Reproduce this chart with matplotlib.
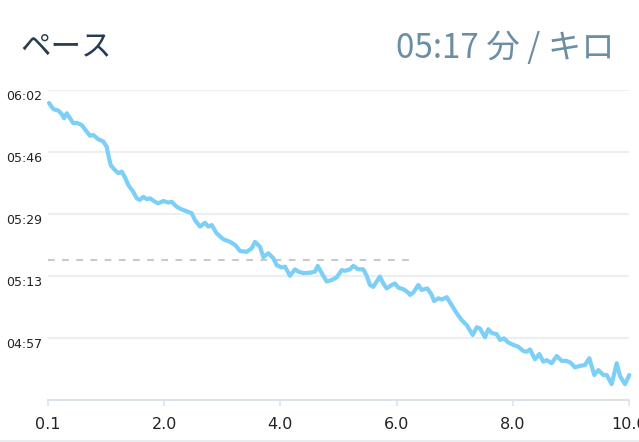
import matplotlib
matplotlib.use("Agg")
import matplotlib.pyplot as plt
from matplotlib.lines import Line2D

# distance (km, axis position) and pace (seconds per km)
distance = [0.017, 0.091, 0.177, 0.236, 0.275, 0.322, 0.379, 0.435, 0.494, 0.580,
            0.666, 0.723, 0.780, 0.866, 0.952, 1.010, 1.038, 1.079, 1.153, 1.210,
            1.269, 1.325, 1.382, 1.468, 1.527, 1.583, 1.640, 1.699, 1.756, 1.842,
            1.898, 1.985, 2.071, 2.129, 2.215, 2.301, 2.375, 2.473, 2.530, 2.616,
            2.702, 2.759, 2.818, 2.904, 3.017, 3.133, 3.219, 3.305, 3.420, 3.506,
            3.563, 3.649, 3.706, 3.792, 3.878, 3.936, 4.022, 4.079, 4.165, 4.251,
            4.308, 4.394, 4.509, 4.596, 4.642, 4.711, 4.797, 4.883, 4.969, 5.055,
            5.112, 5.198, 5.255, 5.341, 5.427, 5.485, 5.542, 5.599, 5.657, 5.714,
            5.771, 5.830, 5.916, 5.972, 6.029, 6.115, 6.201, 6.231, 6.287, 6.374,
            6.432, 6.528, 6.604, 6.644, 6.718, 6.776, 6.862, 6.948, 7.034, 7.120,
            7.206, 7.310, 7.379, 7.435, 7.521, 7.578, 7.637, 7.723, 7.780, 7.849,
            7.923, 8.009, 8.095, 8.181, 8.239, 8.296, 8.382, 8.456, 8.525, 8.583,
            8.669, 8.756, 8.842, 8.928, 8.997, 9.071, 9.157, 9.243, 9.317, 9.403,
            9.472, 9.558, 9.616, 9.702, 9.788, 9.845, 9.931, 10.005]
pace = [358.6, 357.0, 356.6, 355.7, 354.6, 355.9, 354.6, 353.3, 353.4, 352.8,
        351.1, 350.0, 350.2, 349.1, 348.5, 347.1, 345.0, 342.3, 341.0, 340.2,
        340.6, 339.1, 337.1, 335.3, 333.6, 333.2, 334.0, 333.4, 333.6, 332.7,
        332.3, 332.9, 332.5, 332.7, 331.4, 330.7, 330.3, 329.7, 327.9, 326.2,
        327.2, 326.2, 326.6, 324.4, 322.9, 322.2, 321.4, 319.8, 319.6, 320.5,
        322.2, 320.9, 318.2, 319.2, 317.9, 316.1, 315.5, 315.7, 313.3, 315.0,
        314.4, 314.0, 314.1, 314.4, 315.9, 314.0, 311.8, 312.2, 312.9, 314.8,
        314.6, 315.0, 315.9, 315.0, 315.0, 313.3, 310.9, 310.4, 311.8, 313.1,
        311.3, 310.0, 310.9, 311.3, 310.2, 309.8, 308.9, 308.3, 308.9, 310.9,
        309.6, 310.0, 308.3, 306.7, 307.4, 307.1, 307.7, 305.6, 303.5, 301.7,
        300.4, 297.8, 299.8, 299.5, 297.2, 299.3, 298.3, 298.0, 296.5, 296.9,
        295.8, 295.2, 294.7, 293.6, 293.4, 294.0, 291.4, 292.8, 290.8, 291.2,
        290.4, 292.3, 291.0, 291.0, 290.5, 289.3, 289.7, 289.9, 291.7, 287.3,
        288.6, 287.3, 287.3, 284.9, 290.4, 287.0, 284.9, 287.3]

avg_pace = 317.4
avg_end = 6.22
x_ticks = [0, 2, 4, 6, 8, 10]
x_labels = ["0.1", "2.0", "4.0", "6.0", "8.0", "10.0"]
y_ticks = [297.0, 313.25, 329.5, 345.75, 362.0]
y_labels = ["04:57", "05:13", "05:29", "05:46", "06:02"]
title = "ペース"
summary = "05:17 分 / キロ"

W, H = 639, 442
fig = plt.figure(figsize=(W / 100, H / 100), dpi=100)
ax = fig.add_axes([48 / W, 1 - 400 / H, (629 - 48) / W, (400 - 90) / H])

grid_c = "#ebeff1"
for yv in y_ticks:
    ax.axhline(yv, color=grid_c, lw=1.6, zorder=0)

ax.plot([0, avg_end], [avg_pace, avg_pace], color="#c9c9c9", lw=1.5,
        dashes=(3.2, 3.6), zorder=1)
ax.plot(distance, pace, color="#7ccff7", lw=3.0, solid_joinstyle="round",
        solid_capstyle="round", zorder=2, clip_on=False)

ax.set_xlim(0, 10)
ax.set_ylim(280.75, 362.0)
for s in ["top", "right", "left"]:
    ax.spines[s].set_visible(False)
ax.spines["bottom"].set_color("#dde4e8")
ax.spines["bottom"].set_linewidth(1.5)

ax.set_xticks(x_ticks)
ax.set_xticklabels(x_labels, fontsize=11.5, color="#222222", family="DejaVu Sans")
ax.tick_params(axis="x", length=4, width=1.2, color="#dde4e8", pad=8)

ax.set_yticks(y_ticks)
ax.set_yticklabels(y_labels, fontsize=9, color="#222222", family="DejaVu Sans")
ax.tick_params(axis="y", length=0, pad=4)
for lab in ax.get_yticklabels():
    lab.set_verticalalignment("top")

fig.text(20 / W, 1 - 47 / H, title, fontsize=22, color="#263c52",
         family=["Noto Sans CJK JP", "DejaVu Sans"], ha="left", va="center")
fig.text(615 / W, 1 - 48 / H, summary, fontsize=24, color="#6b8ea4",
         family=["Noto Sans CJK JP", "DejaVu Sans"], ha="right", va="center")

fig.add_artist(Line2D([0, 1], [1 - 441 / H, 1 - 441 / H], color="#e8edf0",
                      lw=1.5, transform=fig.transFigure))

fig.savefig("out.png", dpi=100)
